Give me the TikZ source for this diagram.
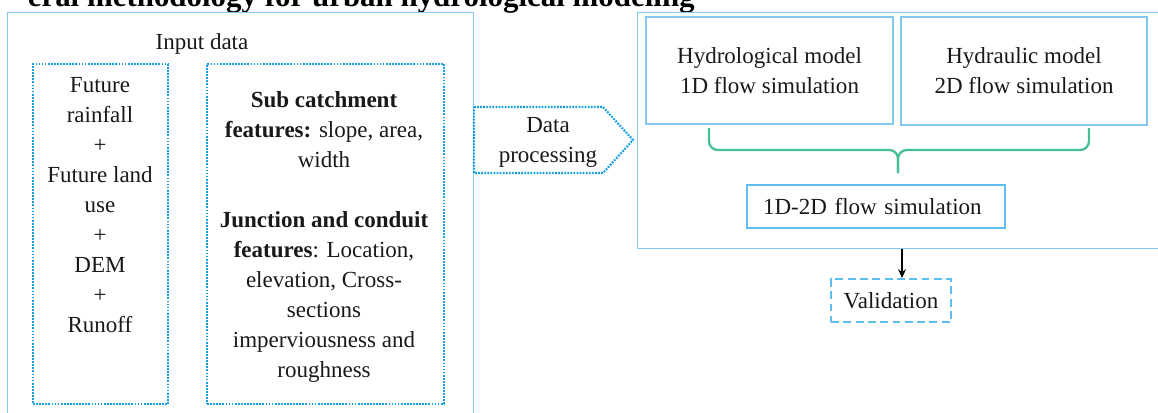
\documentclass[tikz,border=0pt]{standalone}
\usepackage{fontspec}
\setmainfont{Liberation Serif}
\usetikzlibrary{arrows.meta, calc, positioning}
\definecolor{framecol}{RGB}{130,200,240}
\definecolor{dotcol}{RGB}{20,160,230}
\definecolor{simcol}{RGB}{95,190,240}
\definecolor{bracecol}{RGB}{70,190,150}

\begin{document}
\begin{tikzpicture}[x=0.02cm, y=-0.02cm,
        every node/.style={font=\fontsize{13.1}{17.07}\selectfont, text=black!90, inner sep=0pt},
        frame/.style={draw=framecol, line width=0.8pt},
        dotbox/.style={draw=dotcol, line width=1.25pt, dash pattern=on 1pt off 0.75pt},
        modelbox/.style={frame, minimum width=4.94cm, minimum height=2.14cm, align=center}]
        \useasboundingbox (0,0) rectangle (1158,412);
        \clip (0,0) rectangle (1158,412);

        % heading, cut off at the top
        \node[anchor=base east, font=\bfseries\fontsize{17.6}{20}\selectfont, text=black] (title) at (695,7) {eral methodology for urban hydrological modeling};

        % input data
        \node[frame, anchor=north west, minimum width=9.32cm, minimum height=8.5cm] (input) at (7,12) {};
        \node (inlabel) at (202,44) {Input data};
        \node[dotbox, anchor=north west, minimum width=2.7cm, minimum height=6.8cm] (drivers) at (32,63) {};
        \node[align=center] (drvtext) at (100,205) {Future\\rainfall\\+\\Future land\\use\\+\\DEM\\+\\Runoff};
        \node[dotbox, anchor=north west, minimum width=4.74cm, minimum height=6.8cm] (features) at (206,63) {};
        \node[align=center] (feattext) at (324,237) {\textbf{Sub catchment}\\\textbf{features:} slope, area,\\width\\[0.6cm]\textbf{Junction and conduit}\\\textbf{features}: Location,\\elevation, Cross-\\sections\\imperviousness and\\roughness};

        % data processing
        \draw[dotbox] (474,107) -- (603,107) -- (633,140) -- (603,173) -- (474,173) -- cycle;
        \node[align=center] (proc) at (548,142) {Data\\processing};

        % models
        \node[frame, anchor=north west, minimum width=10.86cm, minimum height=4.72cm] (model) at (637,12) {};
        \node[modelbox] (hydrol) at (769.5,70.5) {Hydrological model\\1D flow simulation};
        \node[modelbox, minimum width=4.92cm, minimum height=2.16cm] (hydrau) at (1024,71) {Hydraulic model\\2D flow simulation};

        \draw[bracecol, line width=1.3pt, rounded corners=5pt] (709,128) -- (709,150) -- (898,150) -- (898,173);
        \draw[bracecol, line width=1.3pt, rounded corners=5pt] (1089,128) -- (1089,150) -- (898,150) -- (898,173);

        \node[draw=simcol, line width=1.4pt, inner xsep=0.32cm, text width=4.52cm, minimum height=0.86cm, align=left] (coupled) at (876,206.5) {1D-2D flow simulation};

        \node[draw=simcol, line width=1.1pt, dash pattern=on 4.5pt off 2.5pt, minimum width=2.4cm, minimum height=0.86cm] (val) at (891,300.5) {Validation};
        \draw[-{Stealth[length=5pt,width=4.5pt]}, line width=0.85pt] ($(val.north |- model.south)+(11,0)$) -- ($(val.north)+(11,0)$);
\end{tikzpicture}
\end{document}
